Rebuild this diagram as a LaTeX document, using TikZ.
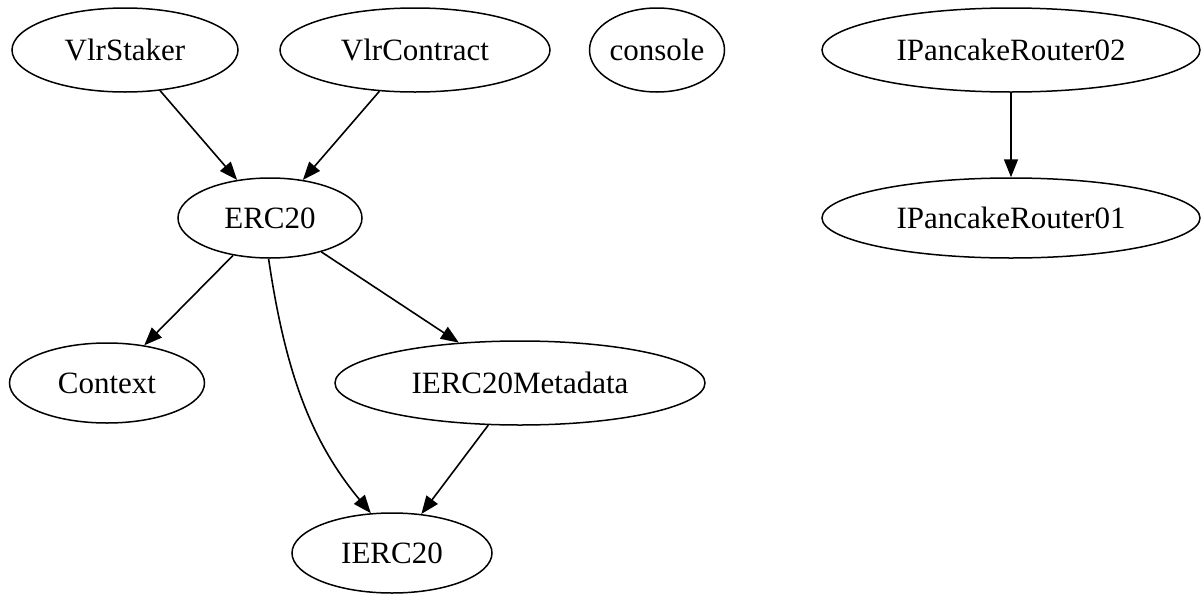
\documentclass[tikz,border=0pt]{standalone}
\usepackage{fontspec}
\setmainfont{Liberation Serif}
\usetikzlibrary{shapes.geometric,arrows.meta}
\begin{document}
\begin{tikzpicture}[x=1pt,y=-1pt,
  nd/.style={draw,ellipse,line width=1.5pt,inner sep=0pt,font=\fontsize{31}{34}\selectfont},
  ed/.style={line width=1.6pt,-{Triangle[length=18pt,width=14pt]}}]
\useasboundingbox (0,0) rectangle (1203,595);
\node[nd,minimum width=226pt,minimum height=84pt] (vs) at (125,50) {VlrStaker};
\node[nd,minimum width=270pt,minimum height=84pt] (vc) at (415,50) {VlrContract};
\node[nd,minimum width=135pt,minimum height=84pt] (co) at (657,50) {console};
\node[nd,minimum width=378pt,minimum height=84pt] (r2) at (1011,50) {IPancakeRouter02};
\node[nd,minimum width=184pt,minimum height=80pt] (erc) at (270,218) {ERC20};
\node[nd,minimum width=378pt,minimum height=80pt] (r1) at (1011,218) {IPancakeRouter01};
\node[nd,minimum width=195pt,minimum height=80pt] (ctx) at (107,383) {Context};
\node[nd,minimum width=370pt,minimum height=84pt] (meta) at (520,383) {IERC20Metadata};
\node[nd,minimum width=200pt,minimum height=80pt] (ierc) at (392,553) {IERC20};
\draw[ed] (vs) -- (erc);
\draw[ed] (vc) -- (erc);
\draw[ed] (r2) -- (r1);
\draw[ed] (erc) -- (ctx);
\draw[ed] (erc) -- (meta);
\draw[ed] (erc.-92) .. controls (285,370) and (310,440) .. (ierc.118);
\draw[ed] (meta) -- (ierc);
\end{tikzpicture}
\end{document}
